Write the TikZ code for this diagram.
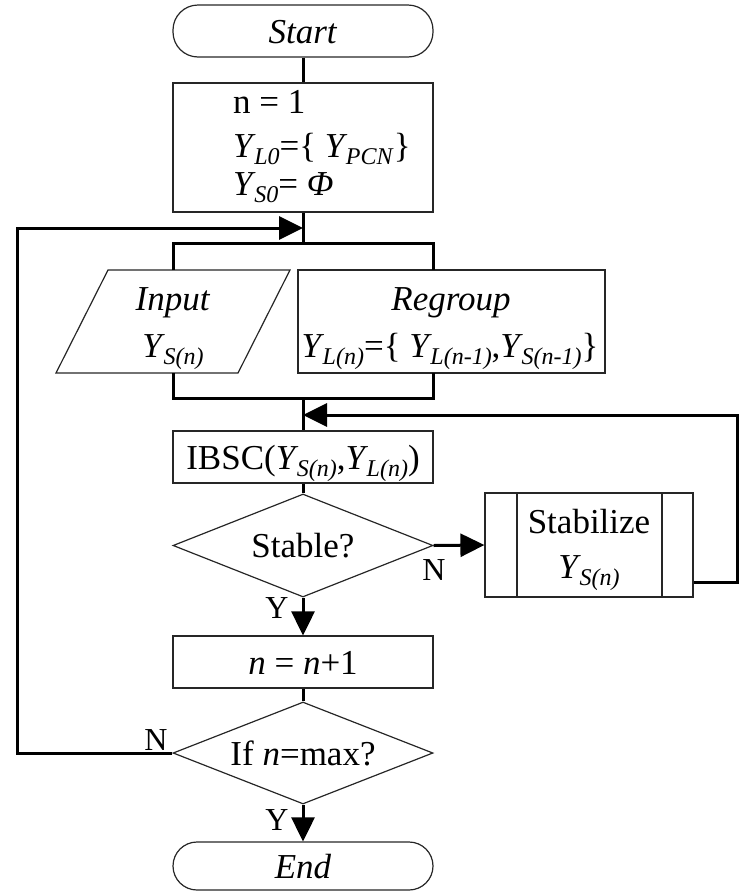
\documentclass[tikz,border=0pt]{standalone}
\usepackage{fontspec}
\usepackage{graphicx}
\setmainfont{Liberation Serif}
\usetikzlibrary{arrows.meta,shapes.geometric}
\newcommand{\Ysub}[2]{\textit{#1}\kern-1.5pt\raisebox{-7pt}{\fontsize{24}{24}\selectfont\textit{#2}}}
\begin{document}
\begin{tikzpicture}[x=1pt,y=-1pt,
  font=\fontsize{35}{41}\selectfont,
  shapeline/.style={draw=black!85,line width=1.2pt},
  box/.style={shapeline,rectangle,minimum width=260pt,minimum height=52pt,inner sep=0pt,text height=24pt,text depth=0pt},
  term/.style={box,rounded corners=25pt},
  dec/.style={shapeline,diamond,shape aspect=2.6,minimum width=260pt,minimum height=103pt,inner sep=0pt,text height=24pt,text depth=0pt},
  txt/.style={inner sep=0pt,anchor=base},
  lab/.style={inner sep=0pt,anchor=base,font=\fontsize{32}{32}\selectfont},
  conn/.style={line width=3pt,line join=miter},
  arr/.style={conn,-{Triangle[length=24pt,width=23pt]}}]
\useasboundingbox (0,0) rectangle (739,892);

% shapes
\node[term] (start) at (303,31) {\textit{Start}};
\node[box,minimum height=129pt] (init) at (303,147.5) {};
\node[txt,anchor=base west] (l1) at (233,113) {n = 1};
\node[txt,anchor=base west] (l2) at (233,157) {\Ysub{Y}{L0}=\{ \Ysub{Y}{PCN}\}};
\node[txt,anchor=base west] (l3) at (233,195) {\Ysub{Y}{S0}= \textit{Φ}};

\coordinate (it) at (173,270);
\coordinate (ib) at (173,373);
\draw[shapeline] (108,270) -- (290,270) -- (238,373) -- (56,373) -- cycle;
\node[txt] (in1) at (173,310) {\textit{Input}};
\node[txt] (in2) at (173,357) {\Ysub{Y}{S(n)}};

\node[box,minimum width=307pt,minimum height=103pt] (reg) at (451.5,321.5) {};
\node[txt] (rg1) at (451,310) {\textit{Regroup}};
\node[txt] (rg2) at (450,357) {\Ysub{Y}{L(n)}=\{ \Ysub{Y}{L(n-1)},\Ysub{Y}{S(n-1)}\}};

\node[box] (ibsc) at (303,457) {IBSC(\Ysub{Y}{S(n)},\Ysub{Y}{L(n)})};
\node[dec] (stable) at (303,545.5) {Stable?};

\node[box,minimum width=208pt,minimum height=104pt] (stab) at (589,545) {};
\draw[shapeline] (517,493) -- (517,597) (662,493) -- (662,597);
\node[txt] (st1) at (589,533) {Stabilize};
\node[txt] (st2) at (589,578) {\Ysub{Y}{S(n)}};

\node[box] (inc) at (303,662) {\textit{n} = \textit{n}+1};
\node[dec,minimum height=102pt] (ifmax) at (303,753) {If \textit{n}=max?};
\node[term,minimum height=48pt,rounded corners=24pt] (end) at (303,866) {\textit{End}};

% junction coordinates
\coordinate (fork) at (303,243);
\coordinate (forkL) at (173,243);
\coordinate (forkR) at (433,243);
\coordinate (regT) at (433,270);
\coordinate (regB) at (433,373);
\coordinate (merge) at (303,398);
\coordinate (mergeL) at (173,398);
\coordinate (mergeR) at (433,398);
\coordinate (loopin) at (303,228);
\coordinate (retin) at (303,415);
\coordinate (rtop) at (737.5,415);
\coordinate (rbot) at (737.5,582);
\coordinate (lbot) at (17,753);
\coordinate (ltop) at (17,228);

% connectors
\draw[conn] (start.south) -- (init.north);
\draw[conn] (init.south) -- (fork);
\draw[conn] (it) -- (forkL) -- (forkR) -- (regT);
\draw[conn] (ib) -- (mergeL) -- (mergeR) -- (regB);
\draw[conn] (merge) -- (ibsc.north);
\draw[conn] (ibsc.south) -- (stable.north);
\draw[arr] (stable.east) -- (stab.west);
\draw[arr] (stable.south) -- (inc.north);
\draw[conn] (inc.south) -- (ifmax.north);
\draw[arr] (ifmax.south) -- (end.north);
\draw[arr] (stab.east |- rbot) -- (rbot) -- (rtop) -- (retin);
\draw[arr] (ifmax.west) -- (lbot) -- (ltop) -- (loopin);

% labels
\node[lab] (n1) at (434,580) {N};
\node[lab] (y1) at (277,618) {Y};
\node[lab] (n2) at (156,750) {N};
\node[lab] (y2) at (277,830) {Y};
\end{tikzpicture}
\end{document}
